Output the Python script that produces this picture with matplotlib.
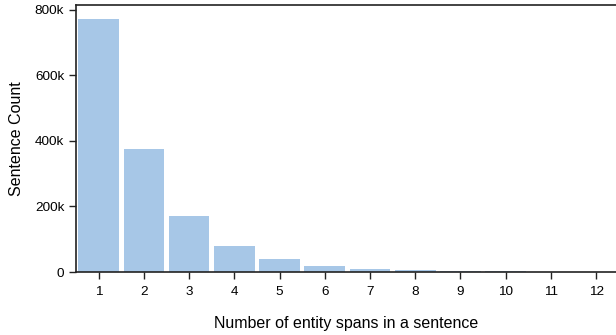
import matplotlib
matplotlib.use('Agg')
import matplotlib.pyplot as plt
from matplotlib.ticker import FuncFormatter

plt.rcParams['font.family'] = ['Liberation Sans', 'DejaVu Sans']

# number of entity spans per sentence and how many sentences have it
spans = [1, 2, 3, 4, 5, 6, 7, 8, 9, 10, 11, 12]
counts = [772000, 376000, 172000, 80000, 40500, 19000, 10000, 7000, 4000, 3000, 1200, 500]

fig = plt.figure(figsize=(6.16, 3.35), dpi=100)
ax = fig.add_axes([0.1234, 0.188, 0.8766, 0.797])

ax.bar(spans, counts, width=0.9, color='#a7c7e7')

ax.set_xlim(0.5, 12.44)
ax.set_ylim(0, 815000)
ax.set_xticks(spans)
ax.set_yticks([0, 200000, 400000, 600000, 800000])
ax.yaxis.set_major_formatter(FuncFormatter(lambda v, p: '0' if v == 0 else '%dk' % (v / 1000)))

ax.spines['right'].set_visible(False)
for s in ['left', 'bottom', 'top']:
    ax.spines[s].set_linewidth(1.2)
    ax.spines[s].set_color('#222222')
ax.tick_params(labelsize=9.7, length=5, width=1, color='#222222')
ax.tick_params(axis='x', pad=5)

ax.set_xlabel('Number of entity spans in a sentence', fontsize=11.5, labelpad=13)
ax.set_ylabel('Sentence Count', fontsize=11.5, labelpad=8)

fig.savefig('out.png', dpi=100)
